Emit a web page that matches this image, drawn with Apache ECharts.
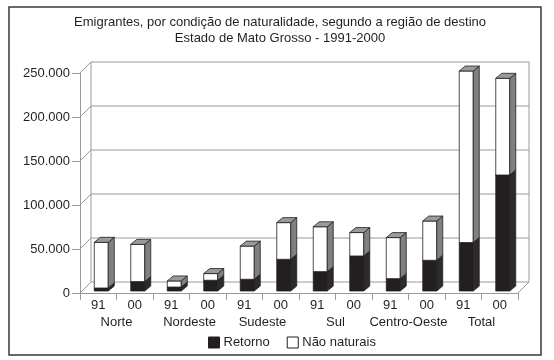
<!DOCTYPE html>
<html>
<head>
<meta charset="utf-8">
<script src="https://cdn.jsdelivr.net/npm/echarts@6/dist/echarts.min.js"></script>
<style>html,body{margin:0;padding:0;background:#fff;}#c{width:554px;height:360px;}</style>
</head>
<body>
<div id="c"></div>
<script>
const categories = ['91','00','91','00','91','00','91','00','91','00','91','00'];
const regions = ['Norte','Nordeste','Sudeste','Sul','Centro-Oeste','Total'];
const retorno = [3400, 10700, 4500, 12200, 13300, 36000, 22000, 39800, 14000, 34900, 55000, 131800];
const naoNaturais = [51900, 42300, 6900, 7600, 37700, 41700, 51000, 26600, 46700, 44600, 195000, 109900];
const yTicks = [0, 50000, 100000, 150000, 200000, 250000];

const TXT = '#231f20';
const GRID = '#9a9a9a';
const DX = 11, DY = -11;      // floor / wall depth
const BDX = 6, BDY = -5;      // bar depth

function fmt(v){ return String(v).replace(/\B(?=(\d{3})+(?!\d))/g, '.'); }

function wallRender(params, api){
  const v = api.value(0);
  const band = api.size([1, 0])[0];
  const pL = api.coord([0, v]);
  const pR = api.coord([categories.length - 1, v]);
  const xl = pL[0] - band/2, xr = pR[0] + band/2, y = pL[1];
  const children = [{
    type: 'polyline',
    shape: { points: [[xl, y], [xl + DX, y + DY], [xr + DX, y + DY]] },
    style: { stroke: GRID, lineWidth: 1, fill: null }
  }];
  if (v === 0) {
    const pt = api.coord([0, yTicks[yTicks.length-1]]);
    children.push({ type: 'line', shape: { x1: xr, y1: y, x2: xr + DX, y2: y + DY }, style: { stroke: GRID, lineWidth: 1 } });
    children.push({ type: 'line', shape: { x1: xl + DX, y1: y + DY, x2: xl + DX, y2: pt[1] + DY }, style: { stroke: GRID, lineWidth: 1 } });
    children.push({ type: 'line', shape: { x1: xr + DX, y1: y + DY, x2: xr + DX, y2: pt[1] + DY }, style: { stroke: GRID, lineWidth: 1 } });
  }
  return { type: 'group', children: children };
}

function makeBarRender(front, side, top){
  return function(params, api){
    const i = api.value(0), base = api.value(1), val = api.value(2);
    const pb = api.coord([i, base]);
    const pt = api.coord([i, base + val]);
    const cx = pb[0];
    const x0 = cx - 4, x1 = cx + 10;
    const yb = pb[1] - 2, yt = pt[1] - 2;
    const st = { stroke: '#231f20', lineWidth: 0.8 };
    return { type: 'group', children: [
      { type: 'rect', shape: { x: x0, y: yt, width: x1 - x0, height: yb - yt }, style: Object.assign({ fill: front }, st) },
      { type: 'polygon', shape: { points: [[x1, yb], [x1, yt], [x1 + BDX, yt + BDY], [x1 + BDX, yb + BDY]] }, style: Object.assign({ fill: side }, st) },
      { type: 'polygon', shape: { points: [[x0, yt], [x1, yt], [x1 + BDX, yt + BDY], [x0 + BDX, yt + BDY]] }, style: Object.assign({ fill: top }, st) }
    ]};
  };
}

const retData = retorno.map((v, i) => [i, 0, v]);
const naoData = naoNaturais.map((v, i) => [i, retorno[i], v]);

const chart = echarts.init(document.getElementById('c'), null, { renderer: 'canvas' });
chart.setOption({
  animation: false,
  backgroundColor: '#fff',
  textStyle: { fontFamily: 'Liberation Sans, Arial, sans-serif', color: TXT },
  title: {
    text: 'Emigrantes, por condição de naturalidade, segundo a região de destino\nEstado de Mato Grosso - 1991-2000',
    left: 275, textAlign: 'center', top: 9,
    textStyle: { fontSize: 13, fontWeight: 'normal', color: TXT, lineHeight: 16, fontFamily: 'Liberation Sans, Arial, sans-serif' }
  },
  legend: {
    left: 203, top: 331, itemWidth: 11, itemHeight: 11, itemGap: 17,
    icon: 'rect',
    textStyle: { fontSize: 13, color: TXT, padding: [0, 0, 0, -1] },
    data: [
      { name: 'Retorno', itemStyle: { color: '#231f20', borderColor: '#231f20', borderWidth: 1 } },
      { name: 'Não naturais', itemStyle: { color: '#ffffff', borderColor: '#231f20', borderWidth: 1 } }
    ]
  },
  graphic: [{
    type: 'rect', shape: { x: 9, y: 7, width: 532, height: 348 },
    style: { fill: null, stroke: '#3a3a3a', lineWidth: 1.5 }, z: 100
  }],
  grid: { left: 80, right: 36, top: 73, bottom: 67 },
  xAxis: [{
    type: 'category', data: categories, position: 'bottom',
    axisLine: { show: true, lineStyle: { color: GRID, width: 1 } },
    axisTick: { show: true, length: 7, lineStyle: { color: GRID } },
    axisLabel: { fontSize: 13, color: TXT, margin: 6, interval: 0 }
  }, {
    type: 'category', data: regions, position: 'bottom', offset: 17,
    axisLine: { show: false }, axisTick: { show: false },
    axisLabel: { fontSize: 13, color: TXT, margin: 6, interval: 0 }
  }],
  yAxis: {
    type: 'value', min: 0, max: 250000, interval: 50000,
    axisLine: { show: true, lineStyle: { color: GRID, width: 1 } },
    axisTick: { show: true, length: 8, lineStyle: { color: GRID } },
    splitLine: { show: false },
    axisLabel: { fontSize: 13, color: TXT, margin: 10, formatter: fmt }
  },
  series: [
    { type: 'custom', name: 'walls', silent: true, clip: false, z: 1,
      renderItem: wallRender, data: yTicks.map(v => [v]), encode: { y: 0 } },
    { type: 'custom', name: 'Retorno', clip: false, z: 2,
      itemStyle: { color: '#231f20' },
      renderItem: makeBarRender('#231f20', '#2b2b2b', '#3a3a3a'), data: retData, encode: { x: 0, y: 2 } },
    { type: 'custom', name: 'Não naturais', clip: false, z: 3,
      itemStyle: { color: '#ffffff', borderColor: '#231f20' },
      renderItem: makeBarRender('#ffffff', '#808080', '#9a9a9a'), data: naoData, encode: { x: 0, y: 2 } }
  ]
});
</script>
</body>
</html>
